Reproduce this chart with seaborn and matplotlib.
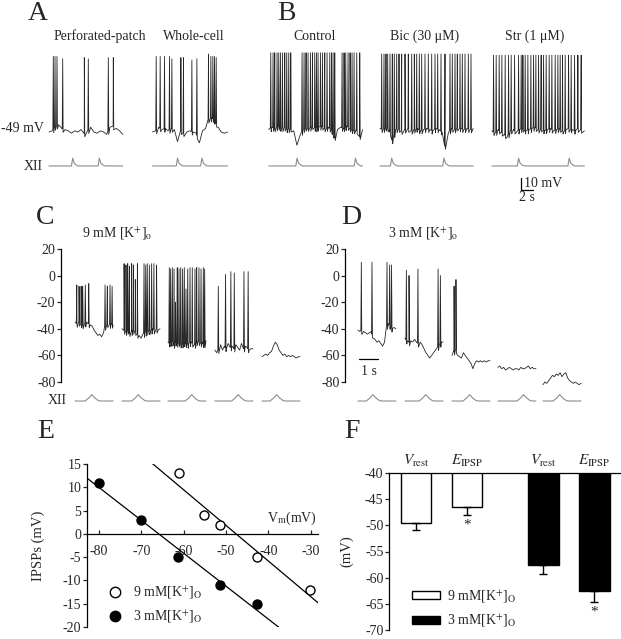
import numpy as np
import pandas as pd
import seaborn as sns
import matplotlib.pyplot as plt
from matplotlib.lines import Line2D
from matplotlib.patches import Patch

# ---------------- data ----------------
# A: membrane traces (mV), spike times (s from trace start), XII burst times (s)
A_perf_base = [-49, -48, -44, -43, -46, -47, -48, -50, -48, -49, -47, -50,
               -48, -45, -49, -50, -48, -49, -51, -45, -44, -46, -48, -51]
A_perf_spikes = [0.69, 0.96, 1.28, 2.19, 5.65, 6.29, 9.49, 10.29]
A_perf_peaks = [14, 14, 14, 12, 13, 12, 13, 13]
A_perf_xii = [3.79, 8.05]

A_whole_base = [-49, -48, -45, -47, -46, -48, -46, -47, -57, -48, -50, -49, -48,
                -49, -50, -58, -48, -46, -38, -37, -40, -45, -49, -50, -49]
A_whole_spikes = [0.59, 1.23, 1.92, 2.72, 3.1, 4.54, 4.96, 6.3, 7.1,
                  8.96, 9.34, 9.66, 9.92, 10.19]
A_whole_peaks = [14, 14, 14, 14, 12, 13, 13, 11, 12, 16, 14, 14, 14, 13]
A_whole_xii = [4.0, 7.9]

# B: control, bicuculline, strychnine
B_ctrl_base = [-47, -45, -46, -44, -46, -45, -47, -46, -48, -60, -52, -47, -45, -46,
               -44, -46, -45, -44, -46, -45, -47, -54, -47, -45, -46, -44, -46, -48,
               -47, -53, -47]
B_ctrl_spikes = [0.32, 0.69, 0.96, 1.33, 1.6, 1.87, 2.19, 2.56, 2.88, 3.2, 3.52,
                 5.33, 5.65, 5.97, 6.29, 6.67, 6.99, 7.36, 7.63, 7.89, 8.27, 8.59,
                 8.96, 9.33, 9.76, 10.03, 10.29, 10.56, 11.73, 12.05, 12.32, 12.69,
                 13.01, 13.33, 13.65, 14.08, 14.56]
B_ctrl_peak = 17
B_ctrl_xii = [4.53, 13.87]

B_bic_base = [-46, -47, -45, -47, -56, -47, -46, -48, -47, -46, -48, -47, -46, -48,
              -47, -46, -47, -48, -46, -47, -49, -61, -50, -46, -47, -45, -46, -47,
              -46, -47, -46]
B_bic_spikes = [0.27, 0.64, 0.96, 1.23, 1.6, 1.97, 2.29, 2.67, 3.04, 3.47, 4.0, 4.53,
                5.07, 5.49, 5.87, 6.29, 6.67, 7.2, 7.73, 8.27, 8.8, 9.23, 9.76, 10.4,
                11.2, 11.57, 12.0, 12.37, 12.8, 13.17, 13.6, 14.13, 14.56]
B_bic_peak = 16
B_bic_xii = [1.87, 10.24]

B_str_base = [-48, -50, -47, -49, -51, -53, -48, -47, -49, -47, -46, -48, -47, -46,
              -45, -47, -46, -48, -47, -46, -48, -47, -46, -48, -47, -46, -47, -48,
              -46, -47, -48]
B_str_spikes = [0.27, 0.69, 1.17, 1.6, 2.13, 2.67, 3.09, 3.63, 4.27, 4.69, 4.96, 5.33,
                5.76, 6.24, 6.67, 7.04, 7.47, 7.89, 8.27, 8.69, 9.17, 9.6, 10.13,
                10.56, 10.93, 11.31, 11.73, 12.27, 12.69, 13.23, 13.76, 14.29]
B_str_peak = 15
B_str_xii = [4.27, 12.37]

# C: 9 mM K+, five 2-s sweeps at different holding levels
C_base = [
    [-35, -36, -35, -36, -37, -36, -35, -36, -37, -38, -41, -43, -45, -44, -46,
     -43, -37, -36, -37, -36, -37],
    [-40, -41, -42, -41, -43, -42, -41, -42, -44, -45, -47, -44, -43, -42, -41,
     -42, -40, -41, -40, -41, -40],
    [-50, -51, -49, -52, -50, -51, -50, -52, -51, -50, -52, -51, -50, -51, -52,
     -50, -49, -51, -50, -52, -49],
    [-56, -58, -55, -52, -56, -53, -55, -51, -54, -53, -55, -52, -54, -56, -51,
     -55, -53, -54, -56, -55, -55],
    [-61, -60, -59, -60, -58, -57, -53, -50, -52, -56, -58, -60, -59, -61, -60,
     -61, -60, -61, -62, -61, -61],
]
C_spikes = [
    [0.09, 0.21, 0.32, 0.4, 0.54, 0.72, 1.58, 1.7, 1.84, 1.95],
    [0.11, 0.21, 0.3, 0.39, 0.51, 0.6, 0.7, 0.81, 1.16, 1.25, 1.33, 1.44, 1.56,
     1.68, 1.82],
    [0.07, 0.14, 0.23, 0.32, 0.4, 0.49, 0.58, 0.67, 0.77, 0.86, 0.95, 1.04, 1.16,
     1.28, 1.42, 1.51, 1.63, 1.74, 1.86, 1.93],
    [0.18, 0.56, 0.84, 1.02, 1.53, 1.75],
    [],
]
C_peaks = [
    [-7, -8, -8, -8, -7, -6, -7, -8, -7, -8],
    [9, 8, 9, 7, 9, 8, -3, 9, 9, 8, 9, 8, 9, 9, 8],
    [6, 5, 6, 5, -20, 6, 5, 6, 5, 6, -10, 5, 6, 6, 5, 6, 6, 5, 6, 5],
    [-8, 1, 3, 2, 3, 3],
    [],
]
C_xii = [0.88, 0.86, 1.25, 1.23, 0.77]

# D: 3 mM K+
D_base = [
    [-41, -42, -41, -42, -43, -44, -43, -42, -47, -48, -50, -49, -51, -53, -50,
     -38, -36, -38, -40, -39, -40],
    [-47, -49, -50, -49, -50, -48, -50, -51, -50, -52, -55, -58, -60, -62, -60,
     -58, -56, -54, -52, -50, -50],
    [-60, -57, -55, -60, -61, -62, -58, -60, -62, -64, -66, -70, -66, -64, -65,
     -64, -65, -64, -65, -64, -64],
    [-69, -68, -70, -69, -71, -70, -69, -70, -71, -70, -70, -71, -69, -70, -70,
     -69, -68, -70, -69, -70, -70],
    [-82, -80, -81, -79, -77, -75, -76, -74, -75, -73, -76, -74, -73, -77, -79,
     -80, -81, -80, -81, -82, -81],
]
D_spikes = [
    [0.18, 0.74, 1.53, 1.67, 1.77],
    [0.07, 0.21, 0.68, 1.74, 1.86],
    [0.11, 0.21],
    [],
    [],
]
D_peaks = [
    [10, 10, 10, 8, 8],
    [4, 0, 5, 5, 0],
    [-8, -3],
    [],
    [],
]
D_xii = [0.79, 1.09, 0.93, 1.35, 0.88]

# E: IPSP amplitude vs membrane potential
E_vm_9 = [-61.2, -55.3, -51.5, -42.6, -30.2]
E_ipsp_9 = [13, 4, 2, -5, -12]
E_vm_3 = [-80, -70, -61.3, -51.5, -42.6]
E_ipsp_3 = [11, 3, -5, -11, -15]

# F: Vrest and E_IPSP for both K+ conditions
F_pos = [0, 1, 2.5, 3.5]
F_kind = ["$V_{\\rm rest}$", "$E_{\\rm IPSP}$", "$V_{\\rm rest}$", "$E_{\\rm IPSP}$"]
F_group = ["9 mM", "9 mM", "3 mM", "3 mM"]
F_mean = [-49.5, -46.5, -57.6, -62.6]
F_sem = [1.3, 1.6, 1.7, 2.1]
F_star = [False, True, False, True]

# ---------------- style ----------------
sns.set_theme(style="white")
plt.rcParams["font.family"] = "serif"
plt.rcParams["font.serif"] = ["Liberation Serif", "DejaVu Serif"]
plt.rcParams["mathtext.fontset"] = "stix"
plt.rcParams["axes.unicode_minus"] = False

W, H = 621, 639
TRACE = "#262626"
XII_C = "#8c8c8c"
fig = plt.figure(figsize=(W / 100, H / 100), dpi=100)


def px_axes(x0, y0, x1, y1):
    ax = fig.add_axes([x0 / W, 1 - y1 / H, (x1 - x0) / W, (y1 - y0) / H])
    ax.set_facecolor("none")
    return ax


def build_trace(t0, dur, base, spikes, peaks, w):
    bt = t0 + np.linspace(0, dur, len(base))
    xs, ys = list(bt), list(base)
    for ts, pk in zip(spikes, peaks):
        t = t0 + ts
        foot = float(np.interp(t, bt, base))
        xs += [t - w, t, t + w]
        ys += [foot, pk, foot - 3]
    order = np.argsort(xs, kind="stable")
    return np.array(xs)[order], np.array(ys)[order]


def build_xii(t0, dur, level, bumps, h, shape):
    xs, ys = [t0, t0 + dur], [level, level]
    for b in bumps:
        for dx, fy in shape:
            xs.append(t0 + b + dx)
            ys.append(level + fy * h)
    order = np.argsort(xs, kind="stable")
    return np.array(xs)[order], np.array(ys)[order]


def draw(ax, x, y, color, lw):
    sns.lineplot(x=x, y=y, ax=ax, color=color, lw=lw, sort=False,
                 estimator=None, legend=False)


sharp = [(-0.2, 0), (0, 1), (0.25, 0.35), (0.7, 0.05), (1.0, 0)]
round_ = [(-0.35, 0), (-0.15, 0.5), (0, 1), (0.15, 0.5), (0.35, 0.05), (0.5, 0)]

# ---------------- top row (A, B) ----------------
ax = px_axes(0, 40, W, 205)
ax.set_xlim(0, W / 6.25)
ax.set_ylim(-49 - 73 / 1.2, -49 + 92 / 1.2)
ax.axis("off")

top_traces = [
    (7.84, 11.8, A_perf_base, A_perf_spikes, A_perf_peaks, A_perf_xii),
    (24.4, 12.0, A_whole_base, A_whole_spikes, A_whole_peaks, A_whole_xii),
    (43.0, 15.0, B_ctrl_base, B_ctrl_spikes, [B_ctrl_peak] * len(B_ctrl_spikes), B_ctrl_xii),
    (60.8, 14.9, B_bic_base, B_bic_spikes, [B_bic_peak] * len(B_bic_spikes), B_bic_xii),
    (78.7, 14.8, B_str_base, B_str_spikes, [B_str_peak] * len(B_str_spikes), B_str_xii),
]
for t0, dur, base, sp, pk, xii in top_traces:
    x, y = build_trace(t0, dur, base, sp, pk, 0.07)
    draw(ax, x, y, TRACE, 0.6)
    x, y = build_xii(t0, dur, -77.3, xii, 6.5, sharp)
    draw(ax, x, y, XII_C, 0.8)

# scale bar 10 mV / 2 s
ax.plot([83.3, 83.3, 85.3], [-87.3, -97.3, -97.3], color="black", lw=0.9)
ax.text(83.8, -92.0, "10 mV", fontsize=10, va="center", ha="left")
ax.text(84.3, -103.5, "2 s", fontsize=10, va="center", ha="center")

fig.text(38 / W, 1 - 13 / H, "A", fontsize=20, ha="center", va="center")
fig.text(286 / W, 1 - 14 / H, "B", fontsize=20, ha="center", va="center")
for xc, lab in [(100, "Perforated-patch"), (194, "Whole-cell"), (315, "Control"),
                (425, "Bic (30 \u03bcM)"), (535, "Str (1 \u03bcM)")]:
    fig.text(xc / W, 1 - 36 / H, lab, fontsize=10, ha="center", va="center")
fig.text(44 / W, 1 - 128 / H, "-49 mV", fontsize=10, ha="right", va="center")
fig.text(43 / W, 1 - 166 / H, "XII", fontsize=10, ha="right", va="center")


# ---------------- C and D ----------------
def sweep_panel(left, starts, bases, spikes, peaks, xii, right):
    a = px_axes(left, 240, right, 410)
    a.set_xlim(0, (right - left) / 19)
    a.set_ylim(-80 - 28 / 1.33, 20 + 9 / 1.33)
    for s0, b, sp, pk, xb in zip(starts, bases, spikes, peaks, xii):
        x, y = build_trace(s0, 2.0, b, sp, pk, 0.025)
        draw(a, x, y, TRACE, 0.6)
        x, y = build_xii(s0, 2.0, -94.3, [xb], 4.8, round_)
        draw(a, x, y, XII_C, 0.8)
    for s in ["top", "right", "bottom"]:
        a.spines[s].set_visible(False)
    a.spines["left"].set_bounds(-80, 20)
    a.spines["left"].set_linewidth(0.9)
    a.spines["left"].set_color("black")
    a.set_yticks([20, 0, -20, -40, -60, -80])
    a.set_xticks([])
    a.tick_params(axis="y", direction="out", length=3, width=0.9, pad=1,
                  labelsize=10, left=True)
    return a


axC = sweep_panel(61, [0.74, 3.21, 5.63, 8.1, 10.58], C_base, C_spikes, C_peaks,
                  C_xii, 305)
axD = sweep_panel(345, [0.68, 3.16, 5.63, 8.05, 10.42], D_base, D_spikes, D_peaks,
                  D_xii, 595)
axD.plot([0.74, 1.74], [-63, -63], color="black", lw=0.9)
axD.text(1.24, -72, "1 s", fontsize=10, ha="center", va="center")

fig.text(45 / W, 1 - 217 / H, "C", fontsize=20, ha="center", va="center")
fig.text(351 / W, 1 - 217 / H, "D", fontsize=20, ha="center", va="center")
fig.text(82 / W, 1 - 234 / H, "9 mM [K$^{+}$]$_{\\rm o}$", fontsize=10, ha="left", va="center")
fig.text(388 / W, 1 - 234 / H, "3 mM [K$^{+}$]$_{\\rm o}$", fontsize=10, ha="left", va="center")
fig.text(67 / W, 1 - 400 / H, "XII", fontsize=10, ha="right", va="center")

# ---------------- E ----------------
axE = px_axes(87, 464, 318, 627)
axE.set_xlim(-82.8, -28.3)
axE.set_ylim(-20, 15)
for vm, ip in [(E_vm_9, E_ipsp_9), (E_vm_3, E_ipsp_3)]:
    sns.regplot(x=vm, y=ip, ax=axE, scatter=False, ci=None, truncate=False,
                color="black", line_kws={"lw": 0.9})
sns.scatterplot(x=E_vm_9, y=E_ipsp_9, ax=axE, s=42, color="white",
                edgecolor="black", linewidth=1, zorder=3, clip_on=False)
sns.scatterplot(x=E_vm_3, y=E_ipsp_3, ax=axE, s=42, color="black",
                edgecolor="black", linewidth=1, zorder=3, clip_on=False)
axE.set_xlim(-82.8, -28.3)
axE.set_ylim(-20, 15)
for s in ["top", "right"]:
    axE.spines[s].set_visible(False)
axE.spines["bottom"].set_position(("data", 0))
for s in ["left", "bottom"]:
    axE.spines[s].set_color("black")
    axE.spines[s].set_linewidth(0.9)
axE.set_xticks([-80, -70, -60, -50, -40, -30])
axE.set_yticks([15, 10, 5, 0, -5, -10, -15, -20])
axE.tick_params(axis="x", direction="in", length=3, width=0.9, pad=8,
                labelsize=10, bottom=True)
axE.tick_params(axis="y", direction="out", length=3, width=0.9, pad=1,
                labelsize=10, left=True)
axE.set_ylabel("IPSPs (mV)", fontsize=10.5)
axE.yaxis.set_label_coords(-0.18, 0.5)
axE.text(-34.4, 3.4, "V$_{\\rm m}$(mV)", fontsize=10, ha="center", va="center")
hE = [Line2D([], [], marker="o", ls="", mfc="white", mec="black", ms=7.5),
      Line2D([], [], marker="o", ls="", mfc="black", mec="black", ms=7.5)]
axE.legend(hE, ["9 mM[K$^{+}$]$_{\\rm O}$", "3 mM[K$^{+}$]$_{\\rm O}$"],
           loc="center left", bbox_to_anchor=(0.03, 0.135), frameon=False,
           fontsize=10, handletextpad=0.3, labelspacing=0.55, borderpad=0)
fig.text(46 / W, 1 - 431 / H, "E", fontsize=20, ha="center", va="center")

# ---------------- F ----------------
axF = px_axes(389, 473, W, 630)
dfF = pd.DataFrame({"pos": F_pos, "mean": F_mean, "group": F_group})
sns.barplot(data=dfF, x="pos", y="mean", hue="group", ax=axF, native_scale=True,
            palette={"9 mM": "white", "3 mM": "black"}, edgecolor="black",
            linewidth=1, width=0.59, dodge=False, errorbar=None, legend=False)
axF.errorbar(F_pos, F_mean, yerr=[F_sem, [0] * len(F_sem)], fmt="none",
             ecolor="black", elinewidth=1, capsize=3, capthick=1)
axF.set_xlim(-0.53, 4.02)
axF.set_ylim(-70, -40)
for p, m, e, st, k in zip(F_pos, F_mean, F_sem, F_star, F_kind):
    axF.text(p, -39.3, k, fontsize=11, ha="center", va="bottom", clip_on=False)
    if st:
        axF.text(p, m - e - 1.9, "*", fontsize=11, ha="center", va="center")
for s in ["bottom", "right"]:
    axF.spines[s].set_visible(False)
for s in ["left", "top"]:
    axF.spines[s].set_color("black")
    axF.spines[s].set_linewidth(0.9)
axF.set_xticks([])
axF.set_xlabel("")
axF.set_yticks([-40, -45, -50, -55, -60, -65, -70])
axF.tick_params(axis="y", direction="out", length=3, width=0.9, pad=1,
                labelsize=10, left=True)
axF.set_ylabel("(mV)", fontsize=10.5)
axF.yaxis.set_label_coords(-0.155, 0.5)
hF = [Patch(facecolor="white", edgecolor="black", lw=1),
      Patch(facecolor="black", edgecolor="black", lw=1)]
axF.legend(hF, ["9 mM[K$^{+}$]$_{\\rm O}$", "3 mM[K$^{+}$]$_{\\rm O}$"],
           loc="center left", bbox_to_anchor=(0.07, 0.135), frameon=False,
           fontsize=10, handlelength=2.0, handleheight=0.45, handletextpad=0.5,
           labelspacing=0.6, borderpad=0)
fig.text(352 / W, 1 - 431 / H, "F", fontsize=20, ha="center", va="center")

fig.savefig("out.png", dpi=100)
